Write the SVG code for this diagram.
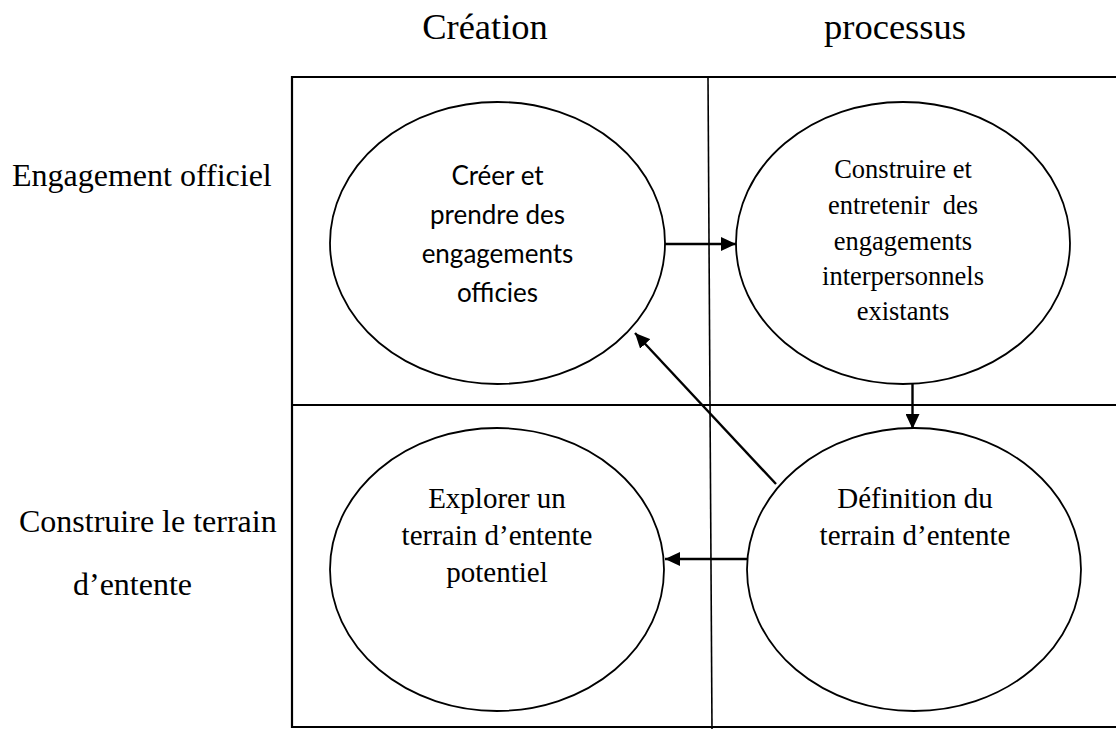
<svg xmlns="http://www.w3.org/2000/svg" width="1116" height="729" viewBox="0 0 1116 729">
  <style>
    .serif { font-family: "Liberation Serif", "Times New Roman", serif; fill: #000; }
    .sans { font-family: Lato, "Open Sans", sans-serif; fill: #000; }
    .hdr { font-size: 36.5px; text-anchor: middle; }
    .row { font-size: 32px; }
    .lbl { font-size: 29px; text-anchor: middle; }
    .lbl-sans { font-size: 26px; text-anchor: middle; }
    .lbl-sm { font-size: 26.5px; text-anchor: middle; }
    .node { fill: #fff; stroke: #000; stroke-width: 1.8; }
    .grid { fill: none; stroke: #000; stroke-width: 2.2; }
    .conn { fill: none; stroke: #000; stroke-width: 2.4; marker-end: url(#arrow); }
  </style>
  <defs>
    <marker id="arrow" markerUnits="userSpaceOnUse" markerWidth="16" markerHeight="14" refX="15" refY="7" orient="auto">
      <path d="M0,0 L15,7 L0,14 Z" fill="#000"/>
    </marker>
  </defs>
  <rect width="1116" height="729" fill="#fff"/>

  <!-- column headers -->
  <text class="serif hdr" x="485" y="39">Création</text>
  <text class="serif hdr" x="895" y="39">processus</text>

  <!-- row headers -->
  <text class="serif row" x="12" y="186">Engagement officiel</text>
  <text class="serif row" x="19" y="532">Construire le terrain</text>
  <text class="serif row" x="73" y="595">d’entente</text>

  <!-- matrix frame -->
  <g id="grid">
    <path class="grid" d="M1118,77 H292 V727 H1118"/>
    <line class="grid" x1="292" y1="405" x2="1118" y2="405"/>
    <line x1="708" y1="77" x2="712" y2="729" stroke="#000" stroke-width="1.6"/>
  </g>

  <g id="node-creer">
    <ellipse class="node" cx="497.5" cy="243" rx="167.5" ry="141"/>
    <text class="sans lbl-sans" x="497.5" y="185">Créer et</text>
    <text class="sans lbl-sans" x="497.5" y="224">prendre des</text>
    <text class="sans lbl-sans" x="497.5" y="263">engagements</text>
    <text class="sans lbl-sans" x="497.5" y="302">officies</text>
  </g>

  <g id="node-construire">
    <ellipse class="node" cx="903" cy="243" rx="167" ry="141"/>
    <text class="serif lbl-sm" x="903" y="178">Construire et</text>
    <text class="serif lbl-sm" x="903" y="214" xml:space="preserve">entretenir  des</text>
    <text class="serif lbl-sm" x="903" y="250">engagements</text>
    <text class="serif lbl-sm" x="903" y="285">interpersonnels</text>
    <text class="serif lbl-sm" x="903" y="320">existants</text>
  </g>

  <g id="node-explorer">
    <ellipse class="node" cx="497" cy="569.5" rx="167" ry="141.5"/>
    <text class="serif lbl" x="497" y="508">Explorer un</text>
    <text class="serif lbl" x="497" y="545">terrain d’entente</text>
    <text class="serif lbl" x="497" y="582">potentiel</text>
  </g>

  <g id="node-definition">
    <ellipse class="node" cx="914" cy="569.5" rx="167" ry="141.5"/>
    <text class="serif lbl" x="915" y="508">Définition du</text>
    <text class="serif lbl" x="915" y="545">terrain d’entente</text>
  </g>

  <g id="connectors">
    <line class="conn" x1="665" y1="244" x2="736" y2="244"/>
    <line class="conn" x1="912.5" y1="384" x2="912.5" y2="429"/>
    <line class="conn" x1="748" y1="559" x2="665" y2="559"/>
    <line class="conn" x1="776" y1="484" x2="635" y2="333"/>
  </g>
</svg>
